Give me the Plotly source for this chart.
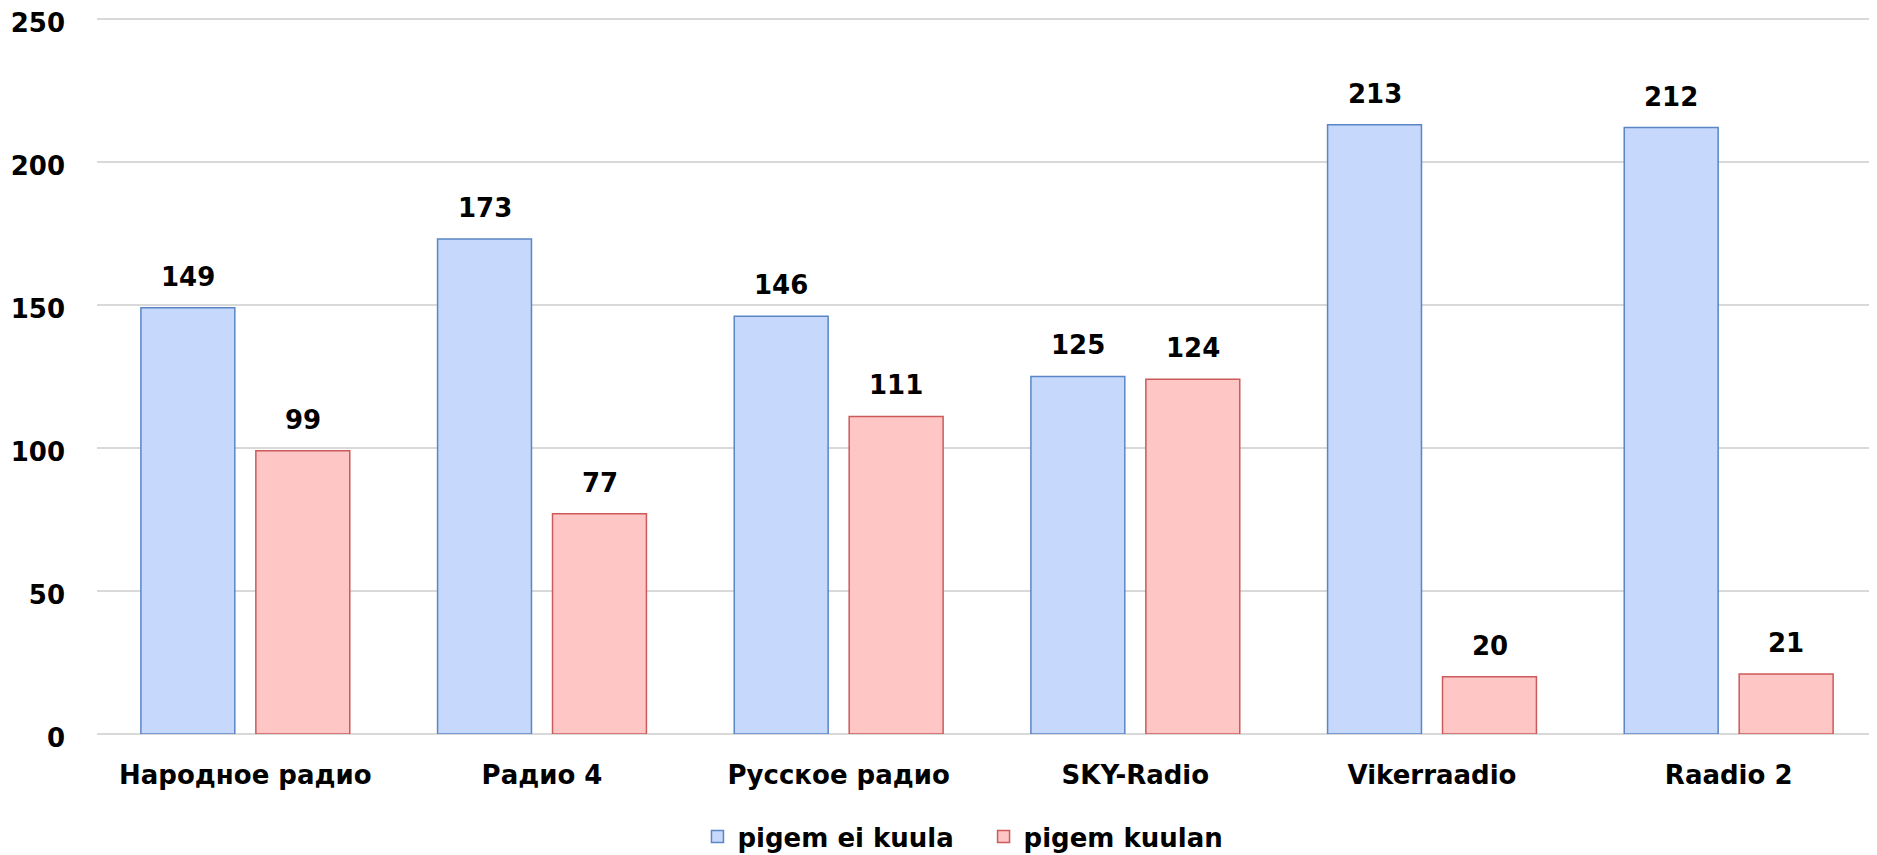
import plotly.graph_objects as go

categories = ["Народное радио", "Радио 4", "Русское радио", "SKY-Radio", "Vikerraadio", "Raadio 2"]
series_names = ["pigem ei kuula", "pigem kuulan"]
ei_kuula = [149, 173, 146, 125, 213, 212]
kuulan = [99, 77, 111, 124, 20, 21]
y_ticks = [0, 50, 100, 150, 200, 250]

FONT = "DejaVu Sans"
FS = 26
fills = ["#c6d8fb", "#ffc6c6"]
lines = ["#5a86c6", "#cc5a5a"]
# trailing spacing after first legend entry, to match the reference layout
name_suffix = ["\u00a0\u00a0\u00a0", ""]

fig = go.Figure()
for name, vals, fc, lc, suf in zip(series_names, [ei_kuula, kuulan], fills, lines, name_suffix):
    fig.add_trace(go.Bar(
        x=categories, y=vals, name=f"<b>{name}</b>{suf}",
        marker=dict(color=fc, line=dict(color=lc, width=1.5)),
    ))

annotations = []
for vals, shift in [(ei_kuula, -57.5), (kuulan, 57.5)]:
    for c, v in zip(categories, vals):
        annotations.append(dict(
            x=c, y=v, text=f"<b>{v}</b>", showarrow=False,
            xshift=shift, yshift=14, yanchor="bottom",
            font=dict(family=FONT, size=FS, color="#000000"),
        ))

fig.update_layout(
    width=1869, height=847,
    margin=dict(l=89, r=0, t=8, b=121, autoexpand=False),
    paper_bgcolor="white", plot_bgcolor="white",
    barmode="group", bargap=0.225, bargroupgap=0.183,
    font=dict(family=FONT, size=FS, color="#000000"),
    annotations=annotations,
    legend=dict(orientation="h", x=0.4865, xref="paper", xanchor="center",
                y=-0.143, yanchor="middle",
                font=dict(family=FONT, size=FS, color="#000000"),
                itemwidth=30),
    showlegend=True,
)
fig.update_xaxes(
    tickfont=dict(family=FONT, size=FS, color="#000000"),
    showgrid=False, showline=False, ticks="",
    tickprefix="<b>", ticksuffix="</b>",
    ticklabelstandoff=23, automargin=False,
)
fig.update_yaxes(
    range=[0, 251], tickvals=y_ticks,
    ticktext=[f"<b>{t}</b>" for t in y_ticks],
    showgrid=True, gridcolor="#d9d9d9", gridwidth=1.5,
    zeroline=True, zerolinecolor="#d9d9d9", zerolinewidth=1.5,
    tickfont=dict(family=FONT, size=FS, color="#000000"),
    ticklabelstandoff=31, automargin=False, ticklabeloverflow="allow",
    ticklabelshift=4,
)

fig.write_html("out.html")
